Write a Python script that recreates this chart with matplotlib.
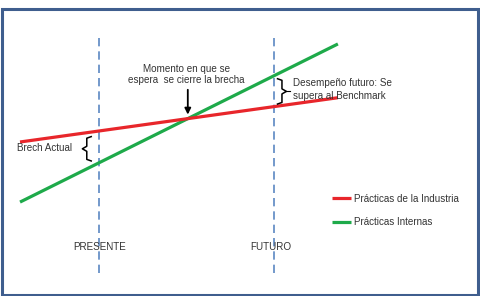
import matplotlib
matplotlib.use("Agg")
import matplotlib.pyplot as plt
from matplotlib.patches import Rectangle

plt.rcParams['font.family'] = ['Liberation Sans', 'DejaVu Sans']

# Time axis (arbitrary units) and performance values
t = [0, 10]
industria = [1.9, 3.3]
internas = [0.0, 5.0]

presente = 2.5
futuro = 8.0
labels = ["Prácticas de la Industria", "Prácticas Internas"]


def value_at(series, x):
    return series[0] + (series[1] - series[0]) * (x - t[0]) / (t[1] - t[0])


fig = plt.figure(figsize=(4.8, 2.96), dpi=100)
ax = fig.add_axes([0, 0, 1, 1])
ax.set_xlim(-0.63, 14.47)
ax.set_ylim(-2.97, 6.39)
ax.axis('off')

txt = '#333333'
fs = 7.1

# Vertical time markers
for x in (presente, futuro):
    ax.plot([x, x], [-2.25, 5.22], color='#5b87c2', lw=1.2,
            linestyle=(0, (5, 3)), zorder=1)

ax.plot(t, industria, color='#e8262b', lw=2.3, label=labels[0],
        solid_capstyle='butt', zorder=3)
ax.plot(t, internas, color='#1eaa4a', lw=2.3, label=labels[1],
        solid_capstyle='butt', zorder=2)

# Crossing point
slope_r = (industria[1] - industria[0]) / (t[1] - t[0])
slope_g = (internas[1] - internas[0]) / (t[1] - t[0])
tx = (internas[0] - industria[0]) / (slope_r - slope_g) + t[0]
vx = value_at(internas, tx)

ax.annotate("", xy=(tx, vx + 0.04), xytext=(tx, vx + 1.0),
            arrowprops=dict(arrowstyle='-|>', color='black', lw=1.3,
                            mutation_scale=9))
ax.text(tx - 0.05, vx + 1.4, "Momento en que se\nespera  se cierre la brecha",
        ha='center', va='center', fontsize=fs, color=txt, linespacing=1.2)


def brace(x, y_top, y_bot, direction, w=0.28):
    mid = (y_top + y_bot) / 2
    xs = [x - direction * w / 2, x, x, x + direction * w / 2, x, x, x - direction * w / 2]
    ys = [y_top, y_top - 0.05, mid + 0.08, mid, mid - 0.08, y_bot + 0.05, y_bot]
    ax.plot(xs, ys, color='black', lw=1.1, zorder=4)


# Brecha actual
g_p = value_at(internas, presente)
r_p = value_at(industria, presente)
brace(presente - 0.4, r_p - 0.18, g_p + 0.05, -1)
ax.text(-0.09, (r_p + g_p) / 2 - 0.05, "Brech Actual", ha='left', va='center',
        fontsize=fs, color=txt)

# Desempeño futuro
g_f = value_at(internas, futuro)
r_f = value_at(industria, futuro)
brace(futuro + 0.24, g_f - 0.1, r_f + 0.08, 1)
ax.plot([futuro + 0.38, futuro + 0.5], [(g_f + r_f) / 2] * 2, color='black', lw=0.8)
ax.text(futuro + 0.58, (g_f + r_f) / 2 + 0.04, "Desempeño futuro: Se\nsupera al Benchmark",
        ha='left', va='center', fontsize=fs, color=txt, linespacing=1.4)

ax.text(presente, -1.42, "PRESENTE", ha='center', va='center', fontsize=fs, color=txt)
ax.text(futuro - 0.1, -1.42, "FUTURO", ha='center', va='center', fontsize=fs, color=txt)

ax.legend(loc='center left', bbox_to_anchor=(0.674, 0.289), frameon=False,
          fontsize=fs, handlelength=1.9, handletextpad=0.3, labelspacing=1.35,
          labelcolor=txt)

# Frame
fig.patches.append(Rectangle((1.5 / 480, 1.5 / 296), 476 / 480, 286 / 296,
                             transform=fig.transFigure, fill=False,
                             edgecolor='#3f5e8e', lw=2.2))

fig.savefig("out.png", dpi=100)
